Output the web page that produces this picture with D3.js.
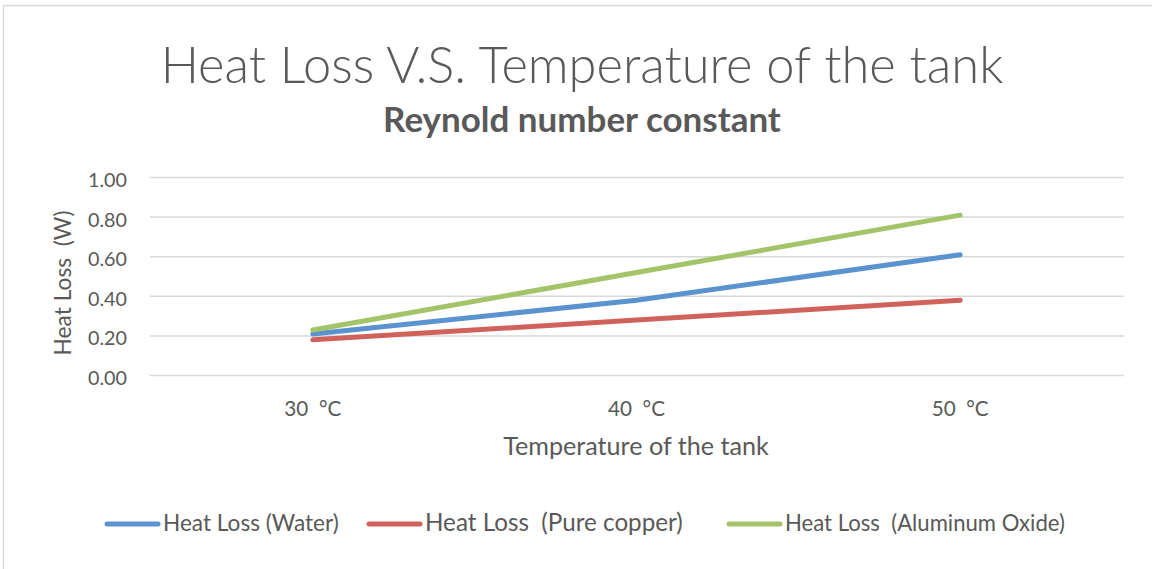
<!DOCTYPE html>
<html><head><meta charset="utf-8">
<script src="https://cdn.jsdelivr.net/npm/d3@7"></script>
<style>body{margin:0;background:#fff}svg{display:block}text{white-space:pre}</style>
</head><body>
<svg id="c" width="1152" height="569"></svg>
<script>
const categories = ["30  °C", "40  °C", "50  °C"];
const water = [0.21, 0.38, 0.61];
const copper = [0.18, 0.28, 0.38];
const alumina = [0.23, 0.52, 0.81];
const yTicks = [0, 0.2, 0.4, 0.6, 0.8, 1.0];
const seriesNames = ["Heat Loss (Water)", "Heat Loss  (Pure copper)", "Heat Loss  (Aluminum Oxide)"];
const colors = ["#5B93D0", "#D0625C", "#A4C46A"];

const svg = d3.select("#c");
const font = "Lato, 'Open Sans', sans-serif";
const txt = "#595959";

svg.append("rect").attr("x", 3.5).attr("y", 5.5).attr("width", 1160).attr("height", 580)
  .attr("fill", "#fff").attr("stroke", "#d9d9d9").attr("stroke-width", 1.5);

function fit(sel, w) {
  const n = sel.node(); const m = n.getComputedTextLength();
  const fs = parseFloat(sel.attr("font-size"));
  sel.attr("font-size", fs * w / m);
}

const x = d3.scaleBand().domain(categories).range([151, 1122]);
const y = d3.scaleLinear().domain([0, 1]).range([375.5, 177.5]);

// gridlines
svg.append("g").selectAll("line").data(yTicks).join("line")
  .attr("x1", 150).attr("x2", 1124)
  .attr("y1", d => y(d)).attr("y2", d => y(d))
  .attr("stroke", "#d9d9d9").attr("stroke-width", 1.5);

// y axis labels
const ya = svg.append("g").attr("transform", "translate(127,2)")
  .call(d3.axisLeft(y).tickValues(yTicks).tickFormat(d3.format(".2f")).tickSize(0).tickPadding(0));
ya.select(".domain").remove();
ya.selectAll("text").attr("font-family", font).attr("font-size", 22).attr("fill", txt).attr("dy", "0.35em");
fit(ya.select(".tick:last-of-type text"), 39);
ya.selectAll("text").attr("font-size", ya.select(".tick:last-of-type text").attr("font-size"));

// x axis labels
const xa = svg.append("g").attr("transform", "translate(0,416)")
  .call(d3.axisBottom(x).tickSize(0).tickPadding(0));
xa.select(".domain").remove();
xa.selectAll("text").attr("font-family", font).attr("font-size", 22).attr("fill", txt).attr("dy", "0");
fit(xa.select(".tick text"), 57);
xa.selectAll("text").attr("font-size", xa.select(".tick text").attr("font-size"));

// lines
const all = [water, copper, alumina];
const line = d3.line().x((d, i) => x(categories[i]) + x.bandwidth() / 2).y(d => y(d));
svg.append("g").selectAll("path").data(all).join("path")
  .attr("d", line).attr("fill", "none")
  .attr("stroke", (d, i) => colors[i]).attr("stroke-width", 5)
  .attr("stroke-linecap", "round").attr("stroke-linejoin", "round");

// titles
const t1 = svg.append("text").attr("x", 582).attr("y", 83).attr("text-anchor", "middle")
  .attr("font-family", font).attr("font-size", 50).attr("font-weight", 300).attr("fill", txt)
  .text("Heat Loss V.S. Temperature of the tank");
fit(t1, 843);
const t2 = svg.append("text").attr("x", 582).attr("y", 132).attr("text-anchor", "middle")
  .attr("font-family", font).attr("font-size", 28).attr("font-weight", 700).attr("fill", txt)
  .text("Reynold number constant");
fit(t2, 398);

// axis titles
const xt = svg.append("text").attr("x", 636).attr("y", 455).attr("text-anchor", "middle")
  .attr("font-family", font).attr("font-size", 20).attr("fill", txt).text("Temperature of the tank");
fit(xt, 266);
const yt = svg.append("text").attr("transform", "translate(71,283) rotate(-90)").attr("text-anchor", "middle")
  .attr("font-family", font).attr("font-size", 20).attr("fill", txt).text("Heat Loss  (W)");
fit(yt, 145);

// legend
const legX = [105, 367, 727];
const legW = [176, 258, 280];
seriesNames.forEach((n, i) => {
  const g = svg.append("g").attr("transform", `translate(${legX[i]},524)`);
  g.append("line").attr("x1", 2).attr("x2", 53).attr("stroke", colors[i]).attr("stroke-width", 5).attr("stroke-linecap", "round");
  const t = g.append("text").attr("x", 58).attr("y", 7).attr("font-family", font).attr("font-size", 19).attr("fill", txt).text(n);
  fit(t, legW[i]);
});
</script>
</body></html>
